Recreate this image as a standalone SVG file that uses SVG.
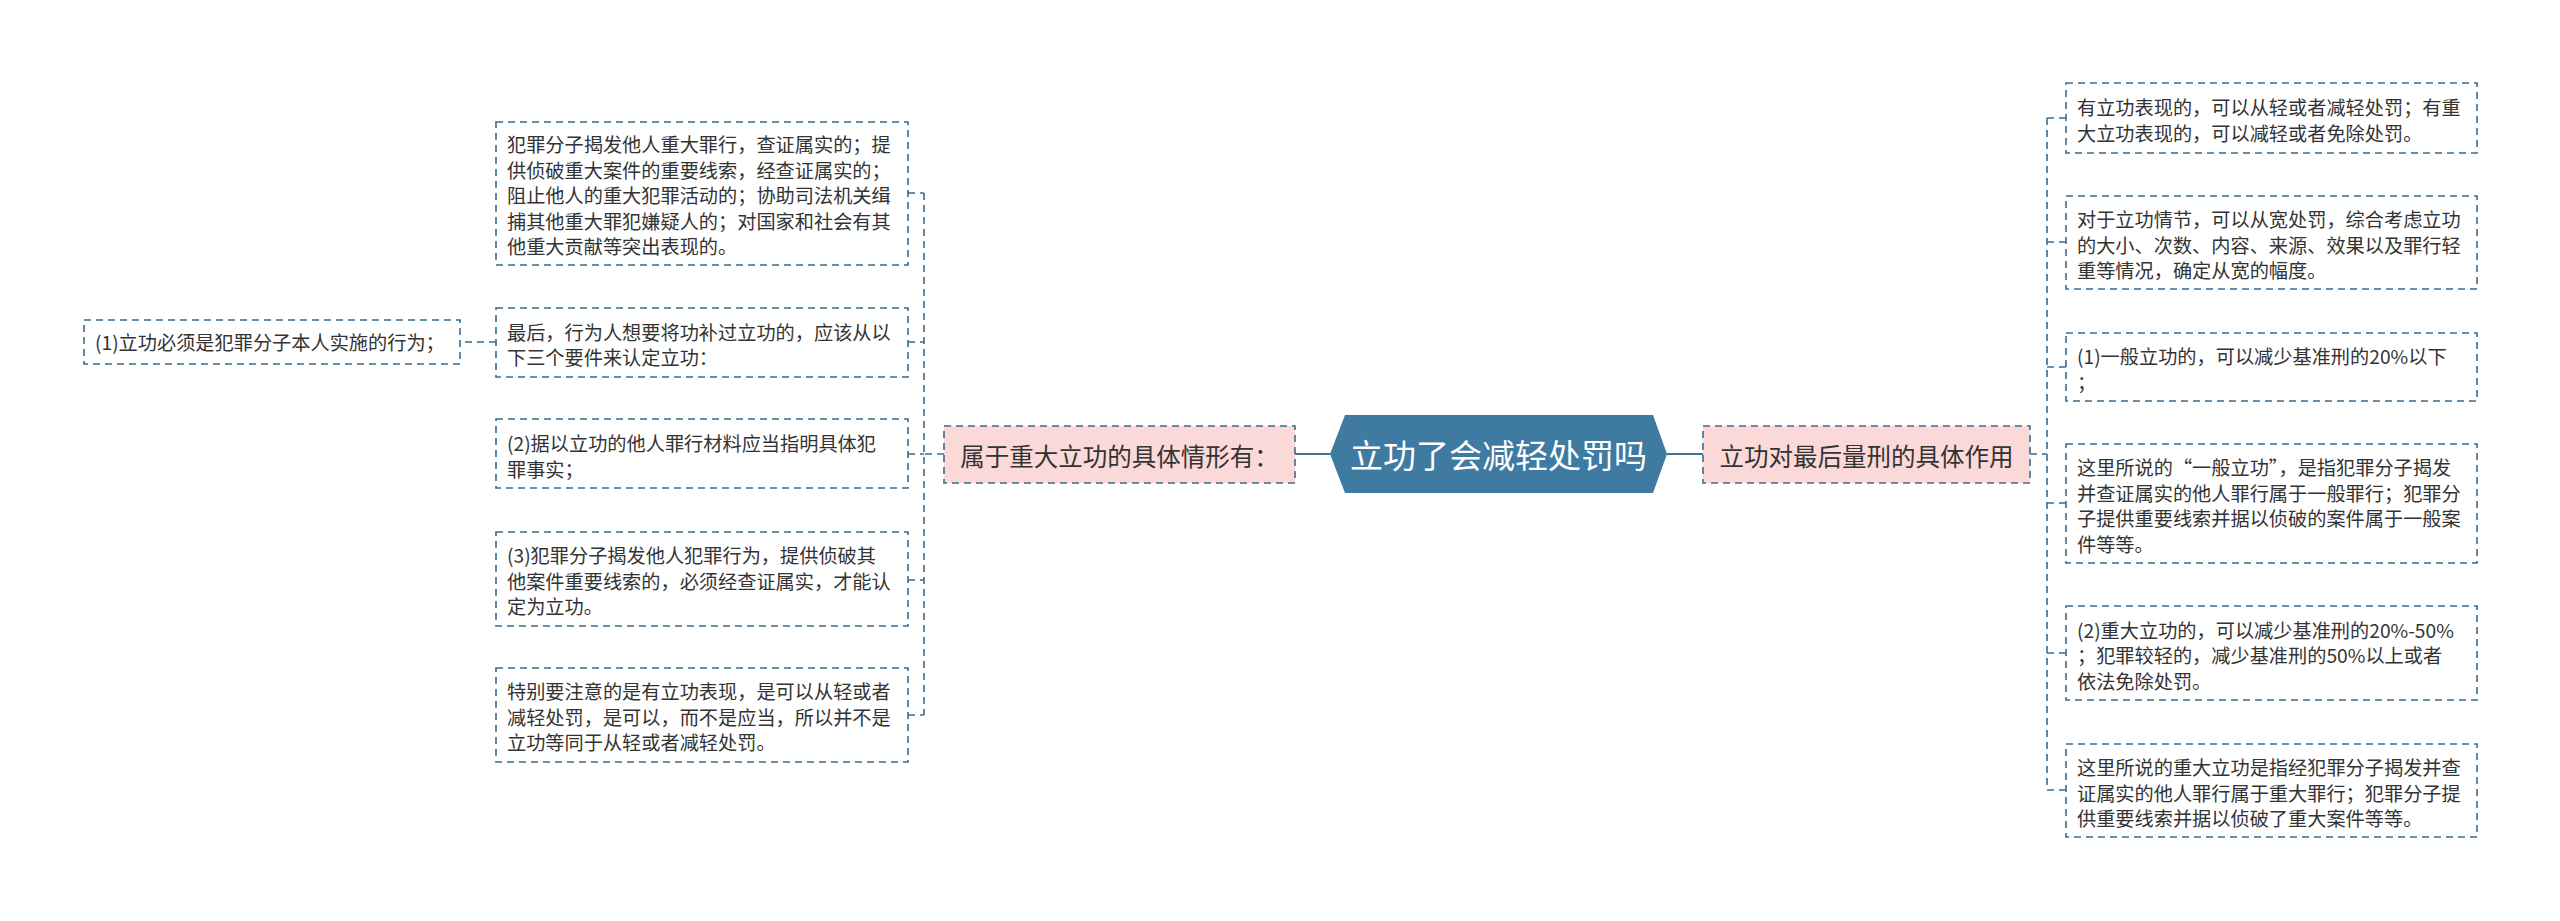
<svg xmlns="http://www.w3.org/2000/svg" width="2560" height="921" viewBox="0 0 2560 921">
<style>
.leaf{fill:#ffffff;stroke:#3a6c8e;stroke-width:1.6;stroke-dasharray:7 5}
.branch{fill:#fbd9d8;stroke:#3a6c8e;stroke-width:1.6;stroke-dasharray:7 5}
.t{font-family:"Noto Sans CJK SC","Liberation Sans",sans-serif;font-size:19.2px;fill:#333333;dominant-baseline:central}
.bt{font-family:"Noto Sans CJK SC","Liberation Sans",sans-serif;font-size:24.5px;fill:#333333;dominant-baseline:central;text-anchor:middle}
.ct{font-family:"Noto Sans CJK SC","Liberation Sans",sans-serif;font-size:33px;fill:#ffffff;dominant-baseline:central;text-anchor:middle}
.dl{fill:none;stroke:#3a6c8e;stroke-width:1.6;stroke-dasharray:7 5}
.sl{fill:none;stroke:#3d7396;stroke-width:2.2}
</style>
<rect width="2560" height="921" fill="#ffffff"/>
<g id="connectors">
<line class="sl" x1="1295" y1="454" x2="1330" y2="454"/>
<line class="sl" x1="1667" y1="454" x2="1703" y2="454"/>
<path class="dl" d="M944 454H924M924 193V715M908 193H924M908 342H924M908 454H924M908 580H924M908 715H924"/>
<path class="dl" d="M496 342H460"/>
<path class="dl" d="M2030 454H2047M2047 118V790M2047 118H2066M2047 242H2066M2047 367H2066M2047 503H2066M2047 653H2066M2047 790H2066"/>
</g>
<g id="center">
<polygon points="1330,454 1345,415 1653,415 1667,454 1653,493 1345,493" fill="#3f7aa1"/>
<text class="ct" x="1498.5" y="454">立功了会减轻处罚吗</text>
</g>
<g id="branch-left">
<rect class="branch" x="944" y="426" width="351" height="57"/>
<text class="bt" x="1119.5" y="455">属于重大立功的具体情形有：</text>
</g>
<g id="branch-right">
<rect class="branch" x="1703" y="426" width="327" height="57"/>
<text class="bt" x="1866.5" y="455">立功对最后量刑的具体作用</text>
</g>
<g id="leaf-l1">
<rect class="leaf" x="496" y="122" width="412" height="143"/>
<text class="t" x="507" y="144">犯罪分子揭发他人重大罪行，查证属实的；提</text>
<text class="t" x="507" y="169.5">供侦破重大案件的重要线索，经查证属实的；</text>
<text class="t" x="507" y="195">阻止他人的重大犯罪活动的；协助司法机关缉</text>
<text class="t" x="507" y="220.5">捕其他重大罪犯嫌疑人的；对国家和社会有其</text>
<text class="t" x="507" y="246">他重大贡献等突出表现的。</text>
</g>
<g id="leaf-l2">
<rect class="leaf" x="496" y="308" width="412" height="69"/>
<text class="t" x="507" y="331.5">最后，行为人想要将功补过立功的，应该从以</text>
<text class="t" x="507" y="357">下三个要件来认定立功：</text>
</g>
<g id="leaf-l2a">
<rect class="leaf" x="84" y="320" width="376" height="44"/>
<text class="t" x="95" y="342">(1)立功必须是犯罪分子本人实施的行为；</text>
</g>
<g id="leaf-l3">
<rect class="leaf" x="496" y="419" width="412" height="69"/>
<text class="t" x="507" y="443">(2)据以立功的他人罪行材料应当指明具体犯</text>
<text class="t" x="507" y="468.5">罪事实；</text>
</g>
<g id="leaf-l4">
<rect class="leaf" x="496" y="532" width="412" height="94"/>
<text class="t" x="507" y="555">(3)犯罪分子揭发他人犯罪行为，提供侦破其</text>
<text class="t" x="507" y="580.5">他案件重要线索的，必须经查证属实，才能认</text>
<text class="t" x="507" y="606">定为立功。</text>
</g>
<g id="leaf-l5">
<rect class="leaf" x="496" y="668" width="412" height="94"/>
<text class="t" x="507" y="691">特别要注意的是有立功表现，是可以从轻或者</text>
<text class="t" x="507" y="716.5">减轻处罚，是可以，而不是应当，所以并不是</text>
<text class="t" x="507" y="742">立功等同于从轻或者减轻处罚。</text>
</g>
<g id="leaf-r1">
<rect class="leaf" x="2066" y="83" width="411" height="70"/>
<text class="t" x="2077" y="107">有立功表现的，可以从轻或者减轻处罚；有重</text>
<text class="t" x="2077" y="132.5">大立功表现的，可以减轻或者免除处罚。</text>
</g>
<g id="leaf-r2">
<rect class="leaf" x="2066" y="196" width="411" height="93"/>
<text class="t" x="2077" y="219">对于立功情节，可以从宽处罚，综合考虑立功</text>
<text class="t" x="2077" y="244.5">的大小、次数、内容、来源、效果以及罪行轻</text>
<text class="t" x="2077" y="270">重等情况，确定从宽的幅度。</text>
</g>
<g id="leaf-r3">
<rect class="leaf" x="2066" y="333" width="411" height="68"/>
<text class="t" x="2077" y="356">(1)一般立功的，可以减少基准刑的20%以下</text>
<text class="t" x="2077" y="381.5">；</text>
</g>
<g id="leaf-r4">
<rect class="leaf" x="2066" y="444" width="411" height="119"/>
<text class="t" x="2077" y="467">这里所说的“一般立功”，是指犯罪分子揭发</text>
<text class="t" x="2077" y="492.5">并查证属实的他人罪行属于一般罪行；犯罪分</text>
<text class="t" x="2077" y="518">子提供重要线索并据以侦破的案件属于一般案</text>
<text class="t" x="2077" y="543.5">件等等。</text>
</g>
<g id="leaf-r5">
<rect class="leaf" x="2066" y="606" width="411" height="94"/>
<text class="t" x="2077" y="629.5">(2)重大立功的，可以减少基准刑的20%-50%</text>
<text class="t" x="2077" y="655">；犯罪较轻的，减少基准刑的50%以上或者</text>
<text class="t" x="2077" y="680.5">依法免除处罚。</text>
</g>
<g id="leaf-r6">
<rect class="leaf" x="2066" y="744" width="411" height="93"/>
<text class="t" x="2077" y="767">这里所说的重大立功是指经犯罪分子揭发并查</text>
<text class="t" x="2077" y="792.5">证属实的他人罪行属于重大罪行；犯罪分子提</text>
<text class="t" x="2077" y="818">供重要线索并据以侦破了重大案件等等。</text>
</g>
</svg>
